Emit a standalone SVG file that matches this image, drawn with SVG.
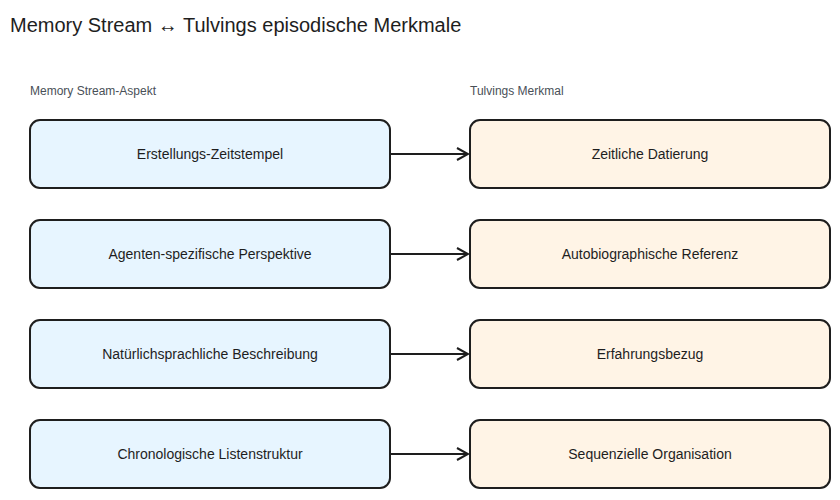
<svg xmlns="http://www.w3.org/2000/svg" width="840" height="500" viewBox="0 0 840 500">
<style>
.t{font-family:"Liberation Sans",Arial,sans-serif;fill:#1e1e1e}
.title{font-size:20px}
.hdr{font-size:12px;fill:#495057}
.lbl{font-size:14px;text-anchor:middle;dominant-baseline:central}
.l{fill:#e7f5ff;stroke:#1e1e1e;stroke-width:2}
.r{fill:#fff4e6;stroke:#1e1e1e;stroke-width:2}
.c{stroke:#1e1e1e;stroke-width:2;fill:none}
</style>
<defs><marker id="a" markerWidth="14" markerHeight="14" refX="12" refY="7" orient="auto" markerUnits="userSpaceOnUse"><path d="M1,1 L12,7 L1,13" fill="none" stroke="#1e1e1e" stroke-width="2"/></marker></defs>
<rect width="840" height="500" fill="#fff"/>
<text class="t title" x="10" y="32">Memory Stream ↔ Tulvings episodische Merkmale</text>
<text class="t hdr" x="30" y="95">Memory Stream-Aspekt</text>
<text class="t hdr" x="470" y="95">Tulvings Merkmal</text>
<g id="l1"><rect class="l" x="30" y="120" width="360" height="68" rx="10"/><text class="t lbl" x="210" y="154">Erstellungs-Zeitstempel</text></g>
<g id="l2"><rect class="l" x="30" y="220" width="360" height="68" rx="10"/><text class="t lbl" x="210" y="254">Agenten-spezifische Perspektive</text></g>
<g id="l3"><rect class="l" x="30" y="320" width="360" height="68" rx="10"/><text class="t lbl" x="210" y="354">Natürlichsprachliche Beschreibung</text></g>
<g id="l4"><rect class="l" x="30" y="420" width="360" height="68" rx="10"/><text class="t lbl" x="210" y="454">Chronologische Listenstruktur</text></g>
<g id="r1"><rect class="r" x="470" y="120" width="360" height="68" rx="10"/><text class="t lbl" x="650" y="154">Zeitliche Datierung</text></g>
<g id="r2"><rect class="r" x="470" y="220" width="360" height="68" rx="10"/><text class="t lbl" x="650" y="254">Autobiographische Referenz</text></g>
<g id="r3"><rect class="r" x="470" y="320" width="360" height="68" rx="10"/><text class="t lbl" x="650" y="354">Erfahrungsbezug</text></g>
<g id="r4"><rect class="r" x="470" y="420" width="360" height="68" rx="10"/><text class="t lbl" x="650" y="454">Sequenzielle Organisation</text></g>
<g id="connectors">
<line class="c" x1="391" y1="154" x2="468" y2="154" marker-end="url(#a)"/>
<line class="c" x1="391" y1="254" x2="468" y2="254" marker-end="url(#a)"/>
<line class="c" x1="391" y1="354" x2="468" y2="354" marker-end="url(#a)"/>
<line class="c" x1="391" y1="454" x2="468" y2="454" marker-end="url(#a)"/>
</g>
</svg>
